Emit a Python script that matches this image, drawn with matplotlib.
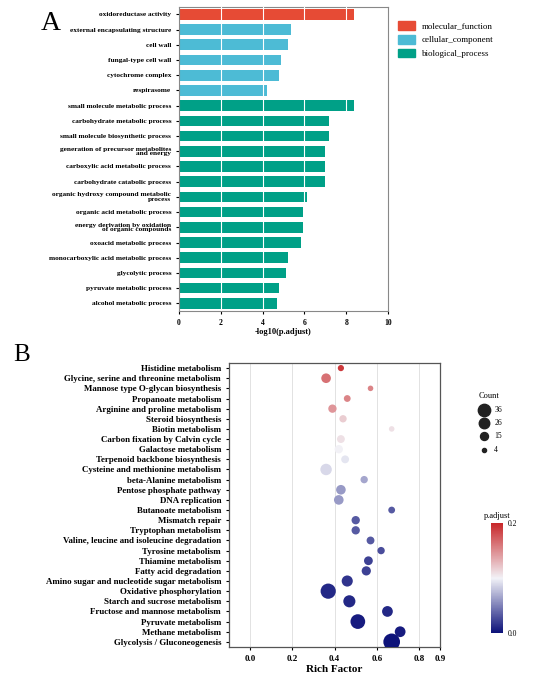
import matplotlib
matplotlib.use("Agg")
import matplotlib.pyplot as plt
from matplotlib.colors import LinearSegmentedColormap, TwoSlopeNorm
from matplotlib.patches import Patch
import numpy as np

plt.rcParams['font.family'] = ['Liberation Serif', 'DejaVu Serif']

go_terms = ["oxidoreductase activity", "external encapsulating structure", "cell wall",
            "fungal-type cell wall", "cytochrome complex", "respirasome",
            "small molecule metabolic process", "carbohydrate metabolic process",
            "small molecule biosynthetic process", "generation of precursor metabolites\nand energy",
            "carboxylic acid metabolic process", "carbohydrate catabolic process",
            "organic hydroxy compound metabolic\nprocess", "organic acid metabolic process",
            "energy derivation by oxidation\nof organic compounds", "oxoacid metabolic process",
            "monocarboxylic acid metabolic process", "glycolytic process",
            "pyruvate metabolic process", "alcohol metabolic process"]
go_values = [8.35, 5.35, 5.2, 4.9, 4.8, 4.2, 8.35, 7.15, 7.15, 7.0, 7.0, 7.0,
             6.1, 5.95, 5.95, 5.85, 5.2, 5.1, 4.8, 4.7]
go_class = ["molecular_function"] + ["cellular_component"] * 5 + ["biological_process"] * 14
class_names = ["molecular_function", "cellular_component", "biological_process"]
class_colors = {"molecular_function": "#E64B35", "cellular_component": "#4DBBD5",
                "biological_process": "#00A087"}

pathways = ["Histidine metabolism", "Glycine, serine and threonine metabolism",
            "Mannose type O-glycan biosynthesis", "Propanoate metabolism",
            "Arginine and proline metabolism", "Steroid biosynthesis", "Biotin metabolism",
            "Carbon fixation by Calvin cycle", "Galactose metabolism",
            "Terpenoid backbone biosynthesis", "Cysteine and methionine metabolism",
            "beta-Alanine metabolism", "Pentose phosphate pathway", "DNA replication",
            "Butanoate metabolism", "Mismatch repair", "Tryptophan metabolism",
            "Valine, leucine and isoleucine degradation", "Tyrosine metabolism",
            "Thiamine metabolism", "Fatty acid degradation",
            "Amino sugar and nucleotide sugar metabolism", "Oxidative phosphorylation",
            "Starch and sucrose metabolism", "Fructose and mannose metabolism",
            "Pyruvate metabolism", "Methane metabolism", "Glycolysis / Gluconeogenesis"]
rich = [0.43, 0.36, 0.57, 0.46, 0.39, 0.44, 0.67, 0.43, 0.42, 0.45, 0.36, 0.54, 0.43, 0.42,
        0.67, 0.50, 0.50, 0.57, 0.62, 0.56, 0.55, 0.46, 0.37, 0.47, 0.65, 0.51, 0.71, 0.67]
count = [5, 12, 4, 6, 9, 7, 4, 8, 9, 8, 17, 7, 12, 12, 6, 9, 9, 8, 7, 10, 11, 16, 30, 19,
         15, 28, 15, 36]
padj = [0.19, 0.16, 0.15, 0.15, 0.14, 0.11, 0.10, 0.10, 0.09, 0.085, 0.08, 0.06, 0.055,
        0.055, 0.03, 0.03, 0.03, 0.03, 0.025, 0.02, 0.02, 0.015, 0.01, 0.01, 0.01, 0.005,
        0.005, 0.002]
count_legend = [36, 26, 15, 4]

fig = plt.figure(figsize=(5.37, 6.76), dpi=100)

# Panel A
axA = fig.add_axes([0.333, 0.54, 0.39, 0.45])
y = np.arange(len(go_terms))
axA.barh(y, go_values, color=[class_colors[c] for c in go_class], height=0.7, zorder=2)
axA.set_yticks(y)
axA.set_yticklabels(go_terms, fontsize=5.3, fontweight='bold', linespacing=0.85)
axA.set_ylim(len(go_terms) - 0.5, -0.5)
axA.set_xlim(0, 10)
axA.set_xticks([0, 2, 4, 6, 8, 10])
axA.tick_params(axis='x', labelsize=5.5, length=2)
axA.tick_params(axis='y', length=2)
for t in axA.get_xticklabels():
    t.set_fontweight('bold')
axA.set_xlabel("-log10(p.adjust)", fontsize=6, fontweight='bold', labelpad=1)
for xv in [2, 4, 6, 8]:
    axA.axvline(xv, color='white', lw=0.8, zorder=3)
    axA.axvline(xv, color='#eeeeee', lw=0.6, zorder=1)
for s in axA.spines.values():
    s.set_color('#888888'); s.set_linewidth(0.8)
axA.legend(handles=[Patch(color=class_colors[c]) for c in class_names], labels=class_names,
           loc='upper left', bbox_to_anchor=(1.01, 0.98), frameon=False, fontsize=6.5,
           handlelength=1.8, handleheight=1.1)
fig.text(0.075, 0.965, "A", fontsize=20, ha='left', va='center')

# Panel B
axB = fig.add_axes([0.426, 0.043, 0.394, 0.42])
cmap = LinearSegmentedColormap.from_list("bwr2", ["#0a0f78", "#f2f2f7", "#c8282a"])
norm = TwoSlopeNorm(vmin=0.0, vcenter=0.09, vmax=0.2)
yb = np.arange(len(pathways))
sc = axB.scatter(rich, yb, s=np.array(count) * 4.0, c=padj, cmap=cmap, norm=norm,
                 edgecolors='none', zorder=3)
axB.set_yticks(yb)
axB.set_yticklabels(pathways, fontsize=6.4, fontweight='bold')
axB.set_ylim(len(pathways) - 0.5, -0.5)
axB.set_xlim(-0.1, 0.9)
axB.set_xticks([0.0, 0.2, 0.4, 0.6, 0.8, 0.9])
axB.set_xticklabels(["0.0", "0.2", "0.4", "0.6", "0.8", "0.9"], fontsize=6.5, fontweight='bold')
axB.tick_params(length=2)
axB.grid(axis='x', color='#dddddd', lw=0.6, zorder=0)
axB.set_xlabel("Rich Factor", fontsize=8, fontweight='bold', labelpad=2)
for s in axB.spines.values():
    s.set_color('#555555'); s.set_linewidth(0.9)
fig.text(0.025, 0.475, "B", fontsize=18, ha='left', va='center')

# Count legend
handles = [axB.scatter([], [], s=c * 2.2, color='#222222') for c in count_legend]
fig.legend(handles=handles, labels=[str(c) for c in count_legend], title="Count",
           loc='upper left', bbox_to_anchor=(0.875, 0.43), frameon=False, fontsize=5.5,
           title_fontsize=6, labelspacing=0.7, handletextpad=0.3)

# Colorbar
cax = fig.add_axes([0.915, 0.063, 0.022, 0.163])
cb = fig.colorbar(sc, cax=cax, ticks=[0.0, 0.2])
cb.ax.set_yticklabels(["0.0", "0.2"], fontsize=5.5)
cb.ax.tick_params(length=0)
cb.outline.set_visible(False)
cb.ax.set_title("p.adjust", fontsize=6, pad=4)

fig.savefig("out.png", dpi=100)
